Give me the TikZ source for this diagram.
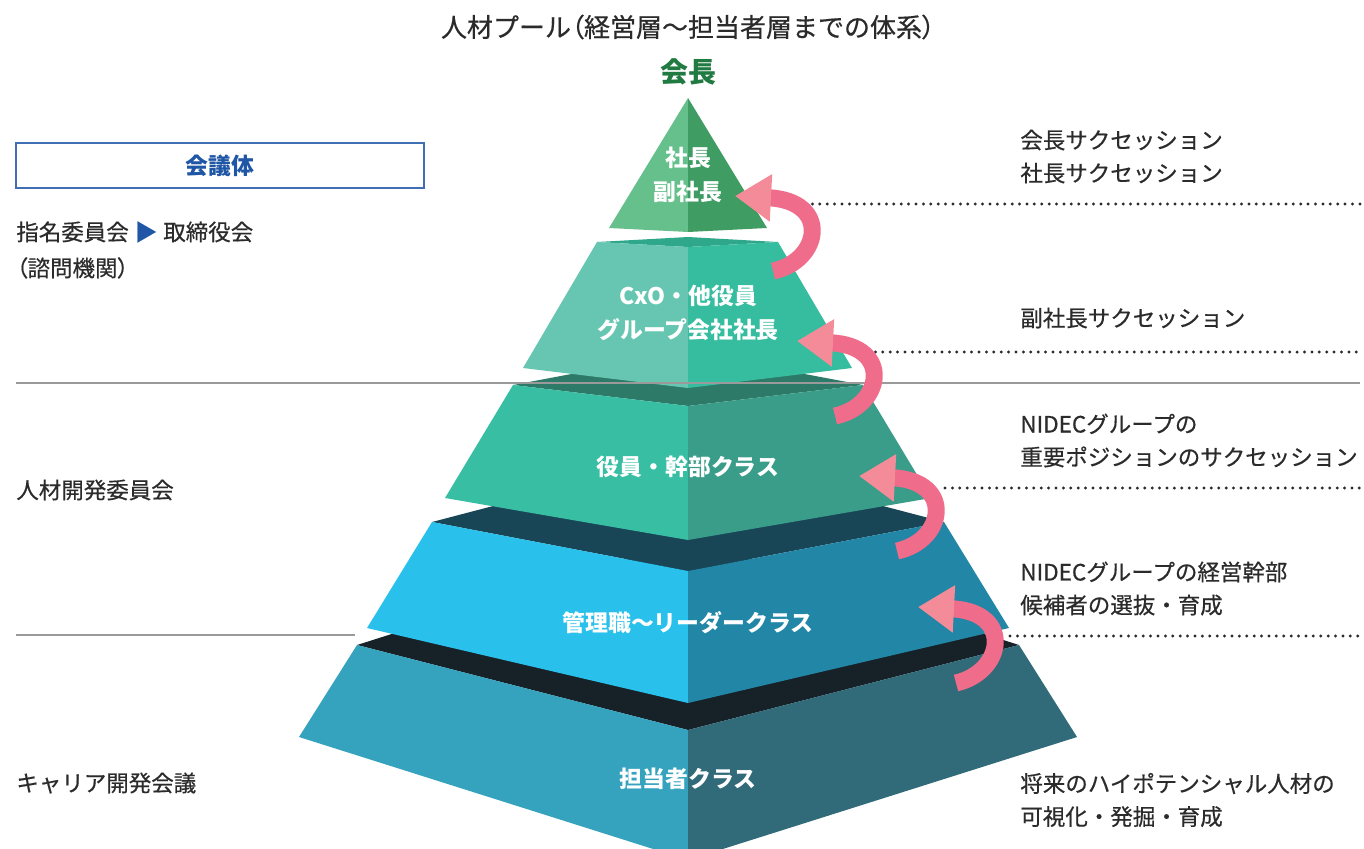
\documentclass[tikz,border=0pt]{standalone}
\usepackage{fontspec}
\setmainfont{Noto Sans CJK JP}
\newfontfamily\medfont[FakeBold=0.5]{Noto Sans CJK JP}
\newfontfamily\palfont[FakeBold=0.5,RawFeature=+palt]{Noto Sans CJK JP}
\usetikzlibrary{arrows.meta}

\definecolor{txt}{HTML}{2B2B2B}
\definecolor{sepgray}{HTML}{9A9A9A}
\definecolor{kaigiblue}{HTML}{1F56A6}
\definecolor{chairgreen}{HTML}{217A41}
\definecolor{pinkdark}{HTML}{EF6C8A}
\definecolor{pinklight}{HTML}{F38B98}
% pyramid faces: top / left / right
\definecolor{laA}{HTML}{66C08C}\definecolor{raA}{HTML}{3F9C63}
\definecolor{tB}{HTML}{2EA78A}\definecolor{lB}{HTML}{67C6B1}\definecolor{rB}{HTML}{36BD9F}
\definecolor{tC}{HTML}{2E7A68}\definecolor{lC}{HTML}{38BEA3}\definecolor{rC}{HTML}{3A9D8A}
\definecolor{tD}{HTML}{184656}\definecolor{lD}{HTML}{29C0EB}\definecolor{rD}{HTML}{2286A6}
\definecolor{tE}{HTML}{162128}\definecolor{lE}{HTML}{35A3BE}\definecolor{rE}{HTML}{316A79}

\begin{document}
\begin{tikzpicture}[x=0.02cm,y=-0.02cm,
    lbl/.style={text=txt,font=\medfont\fontsize{12.8}{18.8}\selectfont,anchor=west,align=left,inner sep=0pt},
    wlbl/.style={text=white,font=\bfseries\fontsize{13}{19.3}\selectfont,align=center,inner sep=0pt},
    dots/.style={draw=txt,line width=0.065cm,line cap=round,dash pattern=on 0pt off 0.148cm},
    sep/.style={draw=sepgray,line width=0.04cm},
    succ/.style={draw=pinkdark,line width=0.34cm,-{Triangle[length=0.72cm,width=0.9cm,color=pinklight]}}]
  \clip (0,0) rectangle (1364,848);
  \fill[white] (0,0) rectangle (1364,848);

  % pyramid, from the bottom up
  \fill[tE] (357,645) -- (688,540) -- (1019,645) -- (688,730) -- cycle;
  \fill[lE] (357,645) -- (688,730) -- (688,860) -- (299,737) -- cycle;
  \fill[rE] (688,730) -- (1019,645) -- (1077,737) -- (688,860) -- cycle;

  \fill[tD] (432,522) -- (688,455) -- (944,522) -- (688,571) -- cycle;
  \fill[lD] (432,522) -- (688,571) -- (688,703) -- (367,628) -- cycle;
  \fill[rD] (688,571) -- (944,522) -- (1009,628) -- (688,703) -- cycle;

  \fill[tC] (513,385) -- (688,352) -- (863,385) -- (688,406) -- cycle;
  \fill[lC] (513,385) -- (688,406) -- (688,540) -- (445,498) -- cycle;
  \fill[rC] (688,406) -- (863,385) -- (931,498) -- (688,540) -- cycle;

  \fill[tB] (597,242) -- (688,237) -- (778,242) -- (688,247) -- cycle;
  \fill[lB] (597,242) -- (688,247) -- (688,388) -- (523,368) -- cycle;
  \fill[rB] (688,247) -- (778,242) -- (852,368) -- (688,388) -- cycle;

  \fill[laA] (688,98) -- (688,232) -- (609,228) -- cycle;
  \fill[raA] (688,98) -- (767,228) -- (688,232) -- cycle;

  \node[wlbl] (pres) at (688,175) {社長\\副社長};
  \node[wlbl] (cxo) at (688,313) {CxO・他役員\\グループ会社社長};
  \node[wlbl] (exec) at (688,467) {役員・幹部クラス};
  \node[wlbl] (mgr) at (688,623) {管理職〜リーダークラス};
  \node[wlbl] (staff) at (688,779) {担当者クラス};

  % heading
  \node[text=txt,font=\medfont\fontsize{14.8}{17}\selectfont] (title) at (688,27)
    {人材プール{\palfont （}経営層〜担当者層までの体系{\palfont ）}};
  \node[text=chairgreen,font=\bfseries\fontsize{15.9}{19}\selectfont] (chair) at (688,72) {会長};

  % left column
  \node[draw=kaigiblue!85,line width=0.03cm,minimum width=8.16cm,minimum height=0.9cm,
        text=kaigiblue,font=\bfseries\fontsize{13}{16}\selectfont] (kaigi) at (220,165.5) {会議体};
  \node[lbl,font=\medfont\fontsize{12.8}{20.5}\selectfont] (nom) at (16,250)
    {指名委員会\hspace{0.12cm}{\color{kaigiblue}▶}\hspace{0.12cm}取締役会\\{\palfont （}諮問機関{\palfont ）}};
  \node[lbl] (hrdev) at (16,490) {人材開発委員会};
  \node[lbl] (career) at (16,783) {キャリア開発会議};
  \coordinate (s1a) at (16,383);
  \coordinate (s1b) at (1360,383);
  \coordinate (s2a) at (16,635);
  \coordinate (s2b) at (355,635);
  \draw[sep] (s1a) -- (s1b);
  \draw[sep] (s2a) -- (s2b);

  % right column
  \node[lbl] (r1) at (1020,156.5) {会長サクセッション\\社長サクセッション};
  \node[lbl] (r2) at (1020,318) {副社長サクセッション};
  \node[lbl] (r3) at (1020,440.5) {NIDECグループの\\重要ポジションのサクセッション};
  \node[lbl] (r4) at (1020,588.5) {NIDECグループの経営幹部\\候補者の選抜・育成};
  \node[lbl] (r5) at (1020,800) {将来のハイポテンシャル人材の\\可視化・発掘・育成};
  \coordinate (d1a) at (805,204);  \coordinate (d1b) at (1360,204);
  \coordinate (d2a) at (868,352);  \coordinate (d2b) at (1360,352);
  \coordinate (d3a) at (945,488);  \coordinate (d3b) at (1360,488);
  \coordinate (d4a) at (1010,636); \coordinate (d4b) at (1360,636);
  \draw[dots] (d1a) -- (d1b);
  \draw[dots] (d2a) -- (d2b);
  \draw[dots] (d3a) -- (d3b);
  \draw[dots] (d4a) -- (d4b);

  % succession arrows
  \coordinate (t1) at (773,271); \coordinate (h1) at (735,196);
  \coordinate (t2) at (835,416); \coordinate (h2) at (797,341);
  \coordinate (t3) at (897,551); \coordinate (h3) at (859,476);
  \coordinate (t4) at (956,683); \coordinate (h4) at (918,607);
  \draw[succ] (t1) .. controls (821,261) and (831,201) .. (h1);
  \draw[succ] (t2) .. controls (883,406) and (893,346) .. (h2);
  \draw[succ] (t3) .. controls (945,541) and (955,481) .. (h3);
  \draw[succ] (t4) .. controls (1004,672) and (1014,612) .. (h4);
\end{tikzpicture}
\end{document}
